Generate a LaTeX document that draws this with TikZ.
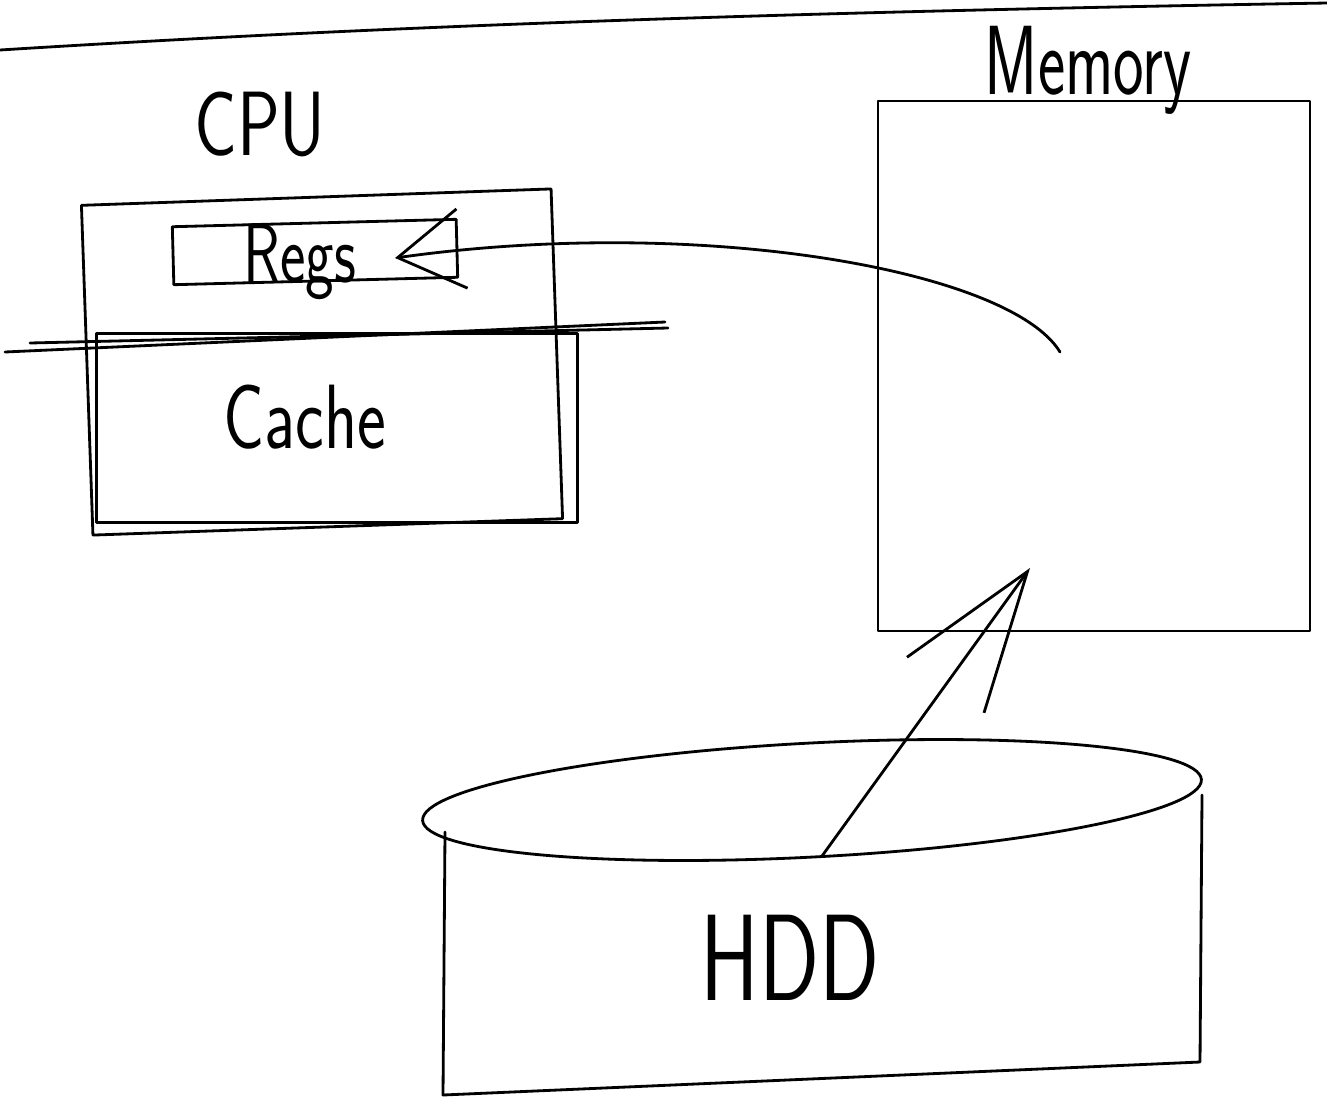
\documentclass[tikz,border=0pt]{standalone}
\usetikzlibrary{arrows.meta}
% hand-lettered label: size, horizontal squeeze, text
\newcommand\handtext[3]{\scalebox{#2}[1]{\fontsize{#1}{#1}\selectfont #3}}
\begin{document}
\begin{tikzpicture}[x=0.02cm, y=-0.02cm,
  ink/.style={line width=1.6pt, line cap=round, line join=round},
  box/.style={ink, draw, rectangle, inner sep=0pt},
  hand/.style={inner sep=0pt, anchor=base, font=\sffamily},
  bigbarb/.style={ink, -{Straight Barb[length=2.8cm, width=1.9cm]}},
  smallbarb/.style={ink, -{Straight Barb[length=1.3cm, width=1.6cm]}}]
\useasboundingbox (0,0) rectangle (1327,1099);

% page-wide stroke along the top
\coordinate (edgeL) at (0,50);
\coordinate (edgeR) at (1327,3);
\draw[ink] (edgeL) .. controls (400,25) and (800,12) .. (edgeR);

% CPU with registers and cache
\node[box, rotate=2, minimum width=9.4cm, minimum height=6.6cm] (cpu) at (322,362) {};
\node[box, minimum width=9.62cm, minimum height=3.78cm] (cache) at (337,428) {};
\node[box, rotate=1.5, minimum width=5.68cm, minimum height=1.16cm] (regs) at (315,252) {};
\node[hand] (cpulbl) at (260,155) {\handtext{52}{0.78}{CPU}};
\node[hand] (regslbl) at (300,282) {\handtext{48}{0.72}{Regs}};
\node[hand] (cachelbl) at (305,448) {\handtext{52}{0.75}{Cache}};

% divider between registers and cache
\coordinate (sepA1) at (5,352);
\coordinate (sepA2) at (665,322);
\coordinate (sepB1) at (30,343);
\coordinate (sepB2) at (668,328);
\draw[ink] (sepA1) -- (sepA2);
\draw[ink] (sepB1) -- (sepB2);

% memory
\node[box, minimum width=8.64cm, minimum height=10.6cm] (memory) at (1094,366) {};
\node[hand] (memlbl) at (1088,94) {\handtext{56}{0.66}{Memory}};

% disk drawn as a cylinder
\coordinate (hddc) at (812,800);
\draw[ink, rotate around={3:(hddc)}] (hddc) ellipse [x radius=7.8cm, y radius=1.14cm];
\draw[ink] (445,832) -- (443,1095) -- (1200,1062) -- (1202,795);
\node[hand] (hddlbl) at (790,1000) {\handtext{70}{0.72}{HDD}};

% transfers
\coordinate (hddtop) at (822,856);
\coordinate (memin) at (1030,568);
\draw[bigbarb] (hddtop) -- (memin);

\coordinate (memdot) at (1060,352);
\coordinate (regsin) at (395,258);
\draw[smallbarb] (memdot) .. controls (1010,270) and (700,215) .. (regsin);
\end{tikzpicture}
\end{document}
